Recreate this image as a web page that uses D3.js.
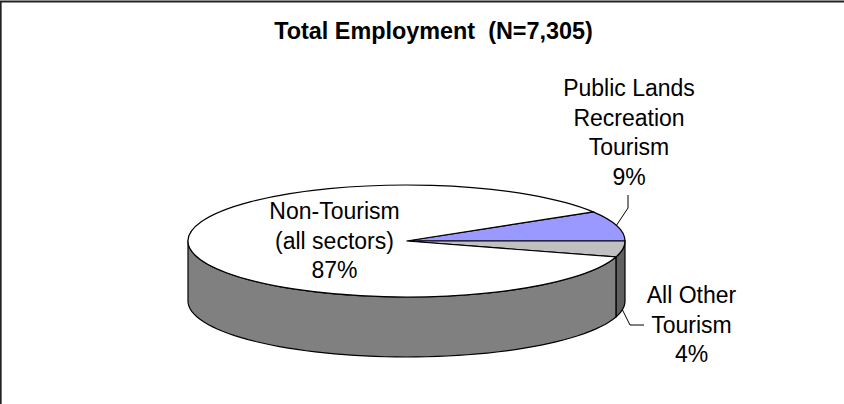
<!DOCTYPE html>
<html lang="en">
<head>
  <meta charset="utf-8">
  <title>Total Employment</title>
  <script src="https://d3js.org/d3.v7.min.js"></script>
  <style>
    body { margin: 0; background: #fff; }
    svg { display: block; }
    text { font-family: "Liberation Sans", Arial, sans-serif; fill: #000; }
  </style>
</head>
<body>
<script>
  const chartTitle = "Total Employment  (N=7,305)";
  const categories = ["Public Lands Recreation Tourism", "All Other Tourism", "Non-Tourism (all sectors)"];
  const sliceValues = [8.7, 4.6, 86.7];
  const sliceColors = ["#9999ff", "#c0c0c0", "#ffffff"];
  const wallColors = ["#4d4d80", "#606060", "#808080"];
  const labelLines = [
    ["Public Lands", "Recreation", "Tourism", "9%"],
    ["All Other", "Tourism", "4%"],
    ["Non-Tourism", "(all sectors)", "87%"]
  ];

  const width = 844, height = 404;
  const cx = 406.5, cy = 241, rx = 218.5, ry = 56, depth = 60;
  const fontSize = 23;

  const svg = d3.select("body").append("svg")
    .attr("width", width)
    .attr("height", height);

  // chart frame, only top and left are in view
  svg.append("path")
    .attr("d", "M0.75,404V1.5H844")
    .attr("fill", "none")
    .attr("stroke", "#222")
    .attr("stroke-width", 1.8);

  svg.append("text")
    .attr("x", 433.5)
    .attr("y", 38.5)
    .attr("text-anchor", "middle")
    .attr("font-size", 23.4)
    .attr("font-weight", "bold")
    .style("white-space", "pre")
    .text(chartTitle);

  // first slice ends at 3 o'clock and the rest run clockwise from there
  const total = d3.sum(sliceValues);
  const start = Math.PI / 2 - sliceValues[0] / total * 2 * Math.PI;
  const pie = d3.pie().sort(null).startAngle(start).endAngle(start + 2 * Math.PI);
  const slices = pie(sliceValues);

  const arc = d3.arc().innerRadius(0).outerRadius(rx);

  // d3 angles: 0 at 12 o'clock, clockwise
  const px = a => cx + rx * Math.sin(a);
  const py = a => cy - ry * Math.cos(a);

  function wallPath(a0, a1) {
    const steps = d3.range(0, 61).map(i => a0 + (a1 - a0) * i / 60);
    const top = steps.map(a => [px(a), py(a)]);
    const bottom = steps.slice().reverse().map(a => [px(a), py(a) + depth]);
    return d3.line()(top.concat(bottom)) + "Z";
  }

  // only the lower half of the rim faces the viewer
  const frontStart = Math.PI / 2, frontEnd = 3 * Math.PI / 2;
  const walls = svg.append("g");
  slices.forEach((s, i) => {
    const a0 = Math.max(s.startAngle, frontStart);
    const a1 = Math.min(s.endAngle, frontEnd);
    if (a1 <= a0) return;
    walls.append("path")
      .attr("d", wallPath(a0, a1))
      .attr("fill", wallColors[i])
      .attr("stroke", "#000")
      .attr("stroke-width", 1.2)
      .attr("stroke-linejoin", "round");
  });

  svg.append("g")
    .attr("transform", `translate(${cx},${cy}) scale(1,${ry / rx})`)
    .selectAll("path")
    .data(slices)
    .join("path")
    .attr("d", arc)
    .attr("fill", (d, i) => sliceColors[i])
    .attr("stroke", "#000")
    .attr("stroke-width", 1.2)
    .attr("vector-effect", "non-scaling-stroke");

  // leader lines
  const leaders = [
    [[628, 195], [628, 208], [616, 226]],
    [[622.5, 310], [630, 325], [644, 325]]
  ];
  svg.append("g")
    .selectAll("path")
    .data(leaders)
    .join("path")
    .attr("d", d3.line())
    .attr("fill", "none")
    .attr("stroke", "#000")
    .attr("stroke-width", 1);

  // labels, one line per tspan
  const labelSpots = [[629, 96], [691.5, 303], [334.5, 219]];
  const lineHeight = 29.5;
  svg.append("g")
    .selectAll("text")
    .data(labelLines)
    .join("text")
    .attr("text-anchor", "middle")
    .attr("font-size", fontSize)
    .each(function(lines, i) {
      d3.select(this).selectAll("tspan")
        .data(lines)
        .join("tspan")
        .attr("x", labelSpots[i][0])
        .attr("y", (d, j) => labelSpots[i][1] + j * lineHeight)
        .text(d => d);
    });
</script>
</body>
</html>
